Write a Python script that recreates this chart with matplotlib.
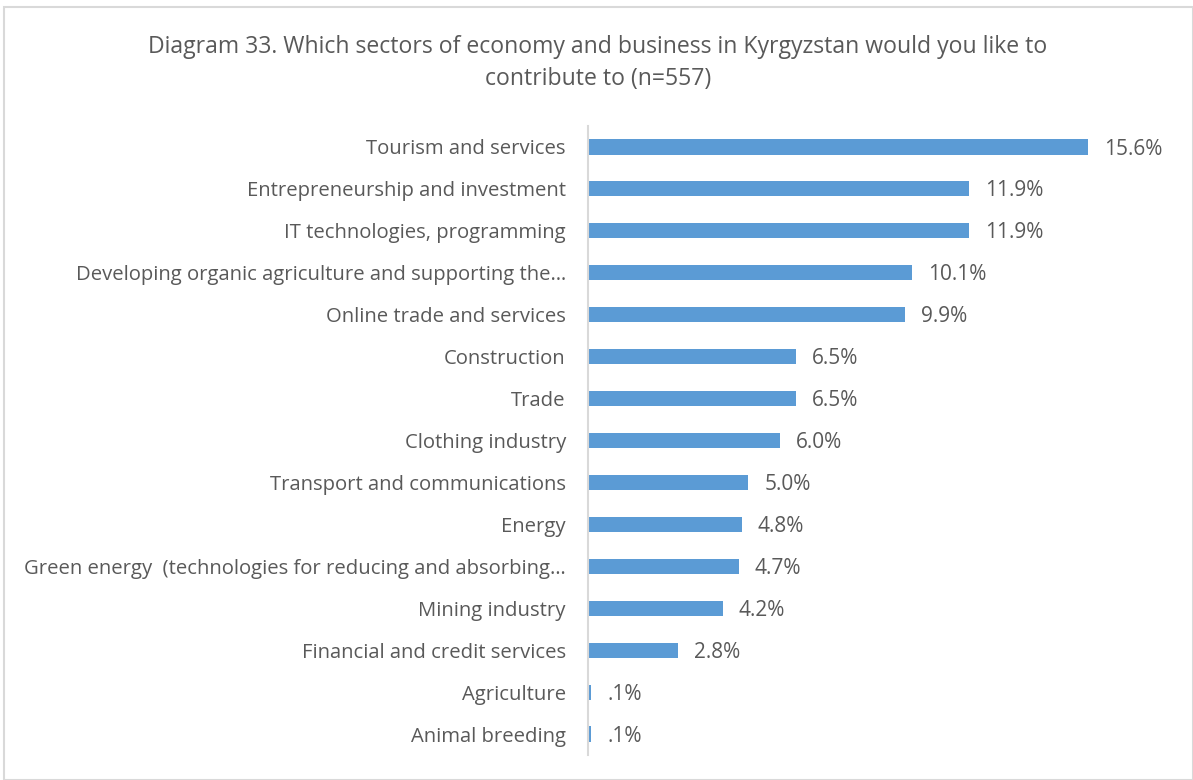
import matplotlib.pyplot as plt
from matplotlib.patches import Rectangle

# Data (top to bottom)
sectors = [
    "Tourism and services",
    "Entrepreneurship and investment",
    "IT technologies, programming",
    "Developing organic agriculture and supporting the…",
    "Online trade and services",
    "Construction",
    "Trade",
    "Clothing industry",
    "Transport and communications",
    "Energy",
    "Green energy  (technologies for reducing and absorbing…",
    "Mining industry",
    "Financial and credit services",
    "Agriculture",
    "Animal breeding",
]
shares = [15.6, 11.9, 11.9, 10.1, 9.9, 6.5, 6.5, 6.0, 5.0, 4.8, 4.7, 4.2, 2.8, 0.1, 0.1]
share_labels = ["15.6%", "11.9%", "11.9%", "10.1%", "9.9%", "6.5%", "6.5%", "6.0%",
                "5.0%", "4.8%", "4.7%", "4.2%", "2.8%", ".1%", ".1%"]

title = "Diagram 33. Which sectors of economy and business in Kyrgyzstan would you like to\ncontribute to (n=557)"

plt.rcParams['font.family'] = ['Open Sans', 'DejaVu Sans']
text_color = '#595959'
bar_color = '#5B9BD5'

fig = plt.figure(figsize=(11.93, 7.8), dpi=100)
# chart area border
fig.patches.append(Rectangle((4 / 1193, 0), 1 - 4 / 1193, 1 - 7 / 780, transform=fig.transFigure,
                             fill=False, edgecolor='#D9D9D9', linewidth=1.5))

ax = fig.add_axes([588 / 1193, 25 / 780, 577 / 1193, (755 - 126) / 780])
y = list(range(len(sectors)))
ax.barh(y, shares, height=0.36, color=bar_color)
ax.set_ylim(len(sectors) - 0.5, -0.5)
ax.set_xlim(0, 18)

for yi, v, lab in zip(y, shares, share_labels):
    ax.annotate(lab, (v, yi), xytext=(11.5, -1.5), textcoords='offset points',
                va='center', ha='left', fontsize=15, color=text_color)

ax.set_yticks(y)
ax.set_yticklabels(sectors, fontsize=14.6, color=text_color)
ax.tick_params(axis='y', length=0, pad=16)
ax.set_xticks([])
for side in ['top', 'right', 'bottom']:
    ax.spines[side].set_visible(False)
ax.spines['left'].set_color('#D9D9D9')
ax.spines['left'].set_linewidth(1.5)

fig.text(598 / 1193, 1 - 63 / 780, title, ha='center', va='center', fontsize=16.6,
         color=text_color, linespacing=1.4)

fig.savefig('out.png', dpi=100)
